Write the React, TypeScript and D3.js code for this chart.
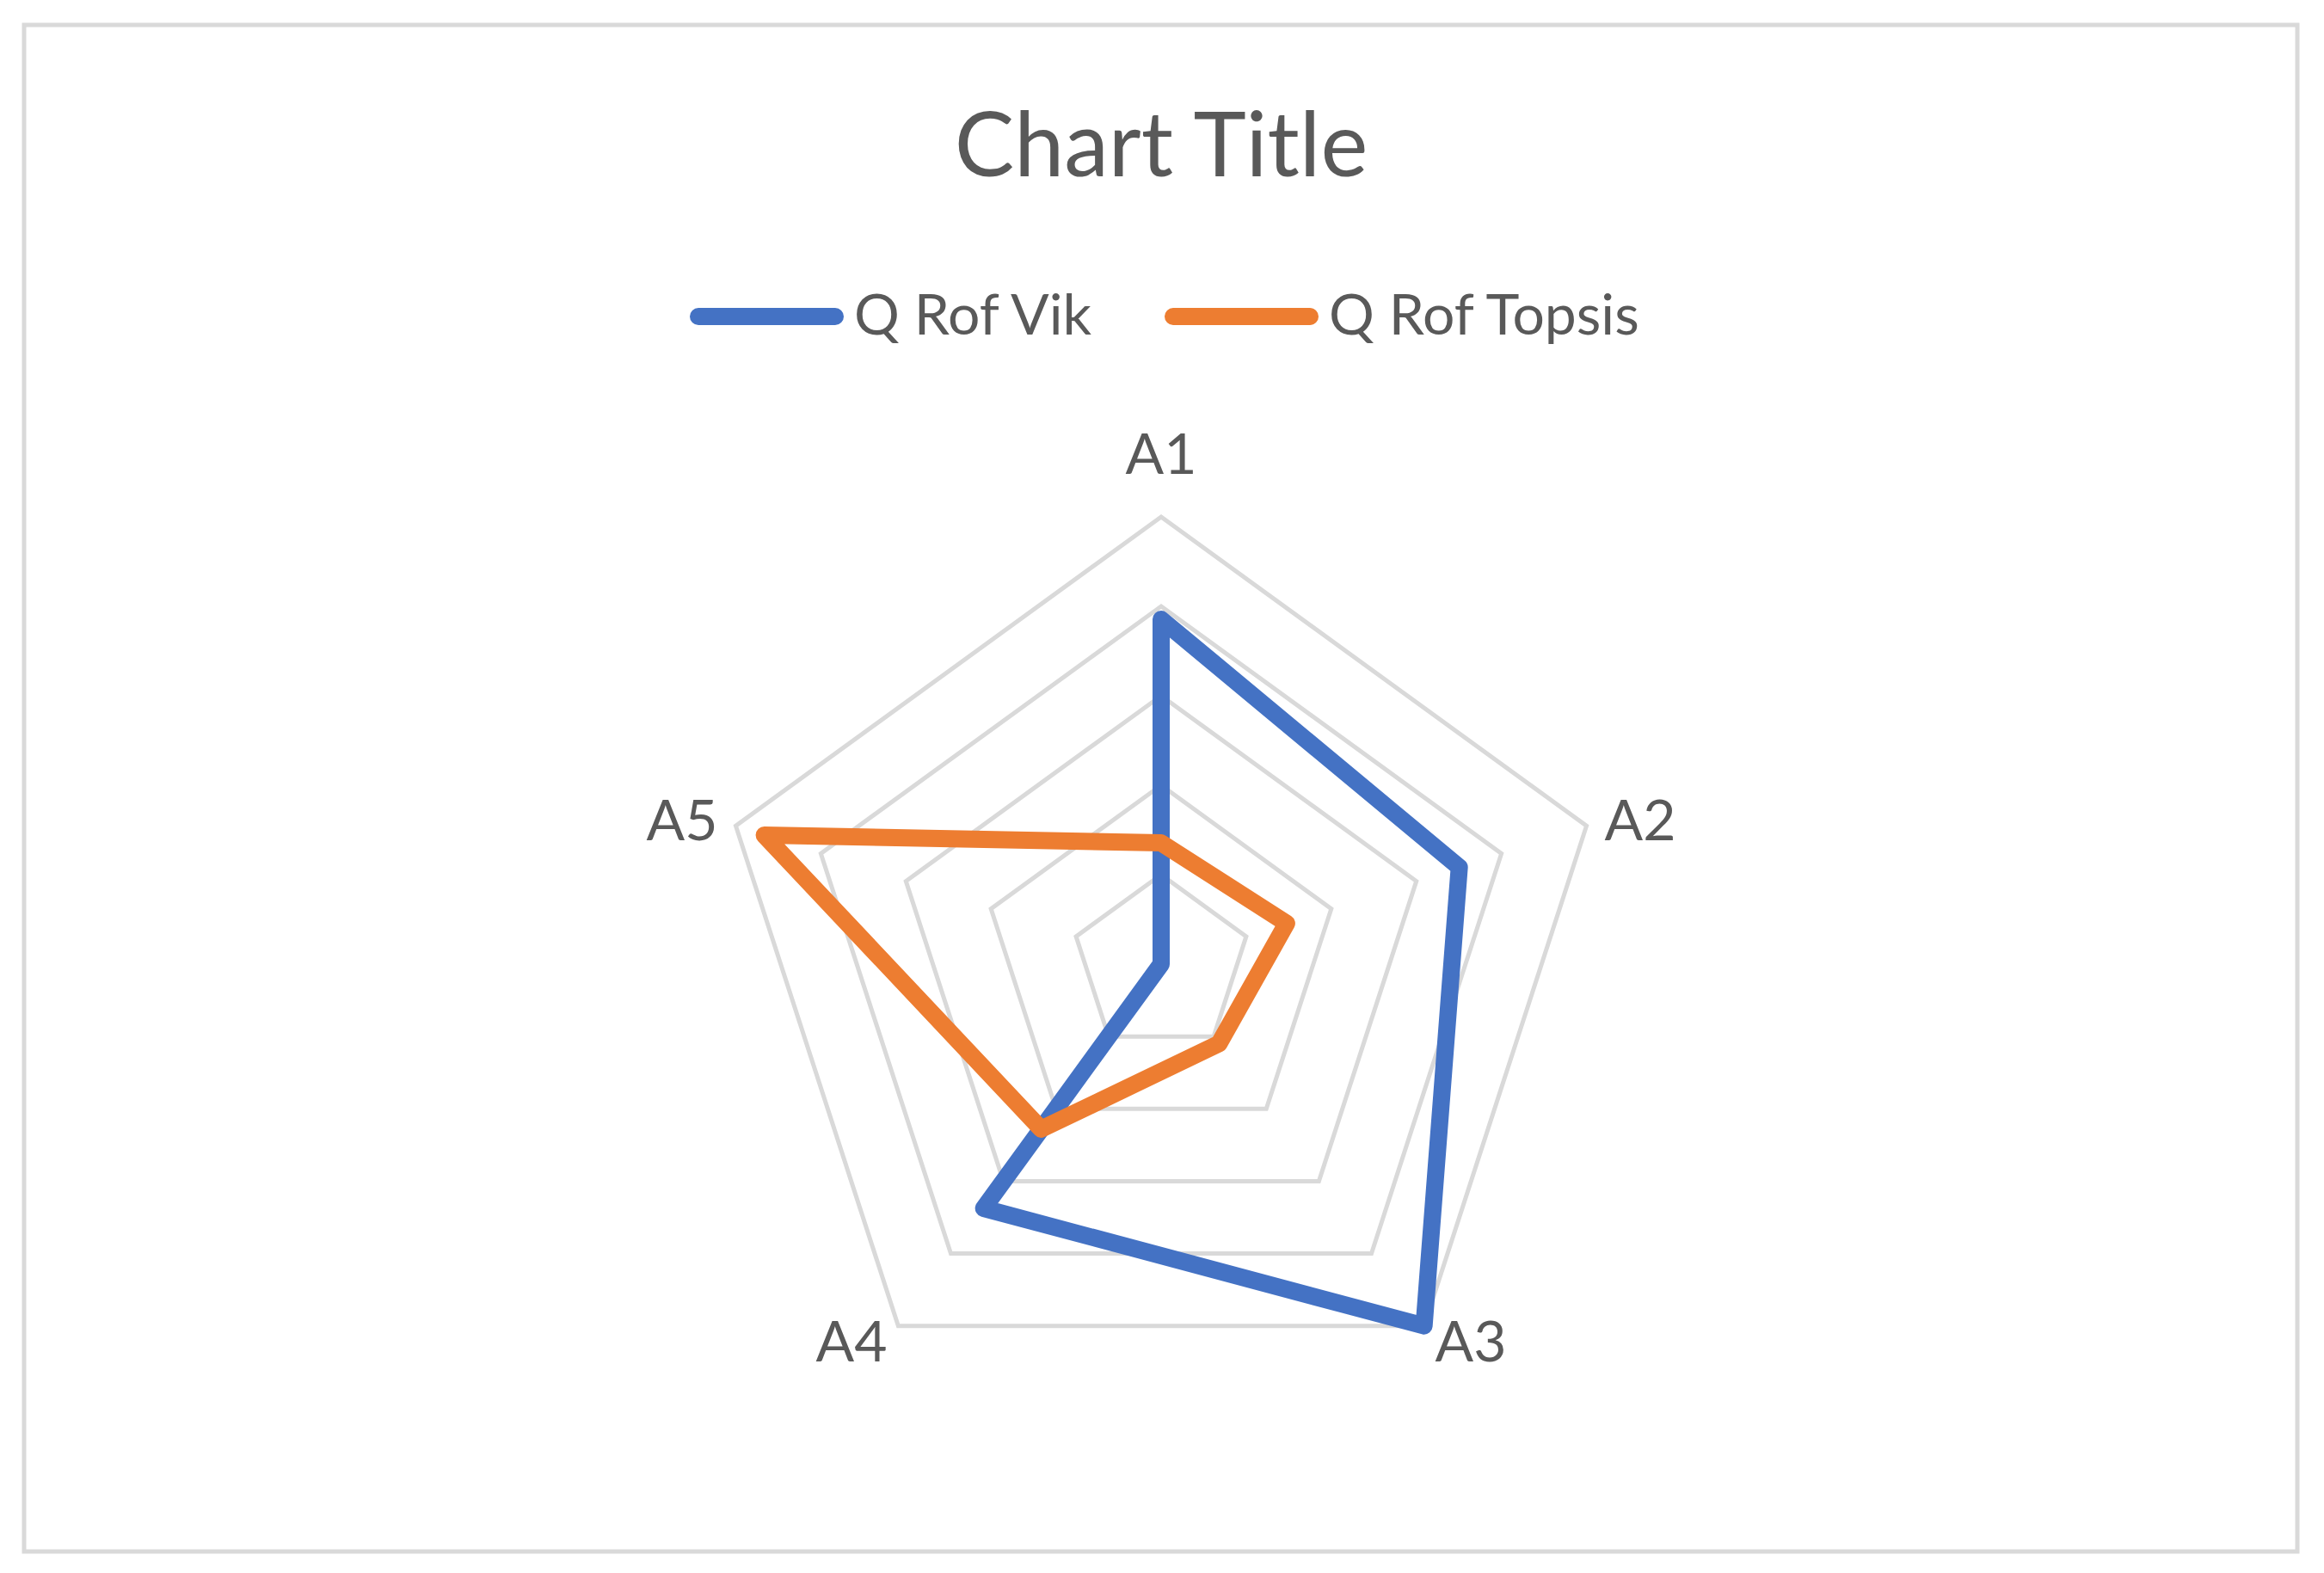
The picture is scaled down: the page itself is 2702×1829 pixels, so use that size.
import React, { useEffect, useRef } from 'react'
import * as d3 from 'd3'

const categories = ['A1', 'A2', 'A3', 'A4', 'A5']
const seriesNames = ['Q Rof Vik', 'Q Rof Topsis']
const qRofVik = [0.771, 0.701, 1.0, 0.675, 0.0]
const qRofTopsis = [0.271, 0.295, 0.22, 0.456, 0.933]
const gridTicks = [0.2, 0.4, 0.6, 0.8, 1.0]
const colors = ['#4472c4', '#ed7d31']

const W = 2702
const H = 1829

const App = () => {
  const svgRef = useRef<SVGSVGElement>(null)

  useEffect(() => {
    const svg = d3.select(svgRef.current)
    svg.selectAll('*').remove()

    const cx = 1350
    const cy = 1121
    const rScale = d3.scaleLinear().domain([0, 1]).range([0, 520])
    const angle = d3
      .scalePoint<string>()
      .domain(categories)
      .range([0, (2 * Math.PI * (categories.length - 1)) / categories.length])

    // chart border
    svg
      .append('rect')
      .attr('x', 28)
      .attr('y', 29)
      .attr('width', 2643)
      .attr('height', 1775)
      .attr('fill', '#fff')
      .attr('stroke', '#d9d9d9')
      .attr('stroke-width', 5)

    svg
      .append('text')
      .attr('x', 1350)
      .attr('y', 205)
      .attr('text-anchor', 'middle')
      .attr('font-family', 'Lato')
      .attr('font-size', 104)
      .attr('fill', '#595959')
      .text('Chart Title')

    // legend
    const legendX = [812, 1364]
    seriesNames.forEach((name, i) => {
      const g = svg.append('g')
      g.append('line')
        .attr('x1', legendX[i])
        .attr('x2', legendX[i] + 159)
        .attr('y1', 368)
        .attr('y2', 368)
        .attr('stroke', colors[i])
        .attr('stroke-width', 20)
        .attr('stroke-linecap', 'round')
      g.append('text')
        .attr('x', legendX[i] + 181)
        .attr('y', 389)
        .attr('font-family', 'Lato')
        .attr('font-size', 66)
        .attr('fill', '#595959')
        .text(name)
    })

    const plot = svg.append('g').attr('transform', `translate(${cx},${cy})`)

    // grid rings
    const ring = d3
      .lineRadial<string>()
      .angle((d) => angle(d) as number)
      .curve(d3.curveLinearClosed)
    gridTicks.forEach((t) => {
      plot
        .append('path')
        .attr('d', ring.radius(() => rScale(t))(categories))
        .attr('fill', 'none')
        .attr('stroke', '#d9d9d9')
        .attr('stroke-width', 5)
    })

    // category labels
    categories.forEach((c) => {
      const a = angle(c) as number
      const s = Math.sin(a)
      const co = Math.cos(a)
      const top = Math.abs(s) < 0.1
      const r = rScale(1) + (top ? 50 : 22)
      plot
        .append('text')
        .attr('x', r * s)
        .attr('y', -r * co)
        .attr('dy', top ? 0 : '0.36em')
        .attr('text-anchor', top ? 'middle' : s > 0 ? 'start' : 'end')
        .attr('font-family', 'Lato')
        .attr('font-size', 66)
        .attr('fill', '#595959')
        .text(c)
    })

    // series
    const series = [qRofVik, qRofTopsis]
    const line = d3
      .lineRadial<number>()
      .angle((d, i) => angle(categories[i]) as number)
      .radius((d) => rScale(d))
      .curve(d3.curveLinearClosed)
    series.forEach((vals, i) => {
      plot
        .append('path')
        .attr('d', line(vals))
        .attr('fill', 'none')
        .attr('stroke', colors[i])
        .attr('stroke-width', 20)
        .attr('stroke-linejoin', 'round')
    })
  }, [])

  return (
    <svg
      ref={svgRef}
      width={W}
      height={H}
      style={{ position: 'absolute', left: 0, top: 0, background: '#fff' }}
    />
  )
}

export default App
